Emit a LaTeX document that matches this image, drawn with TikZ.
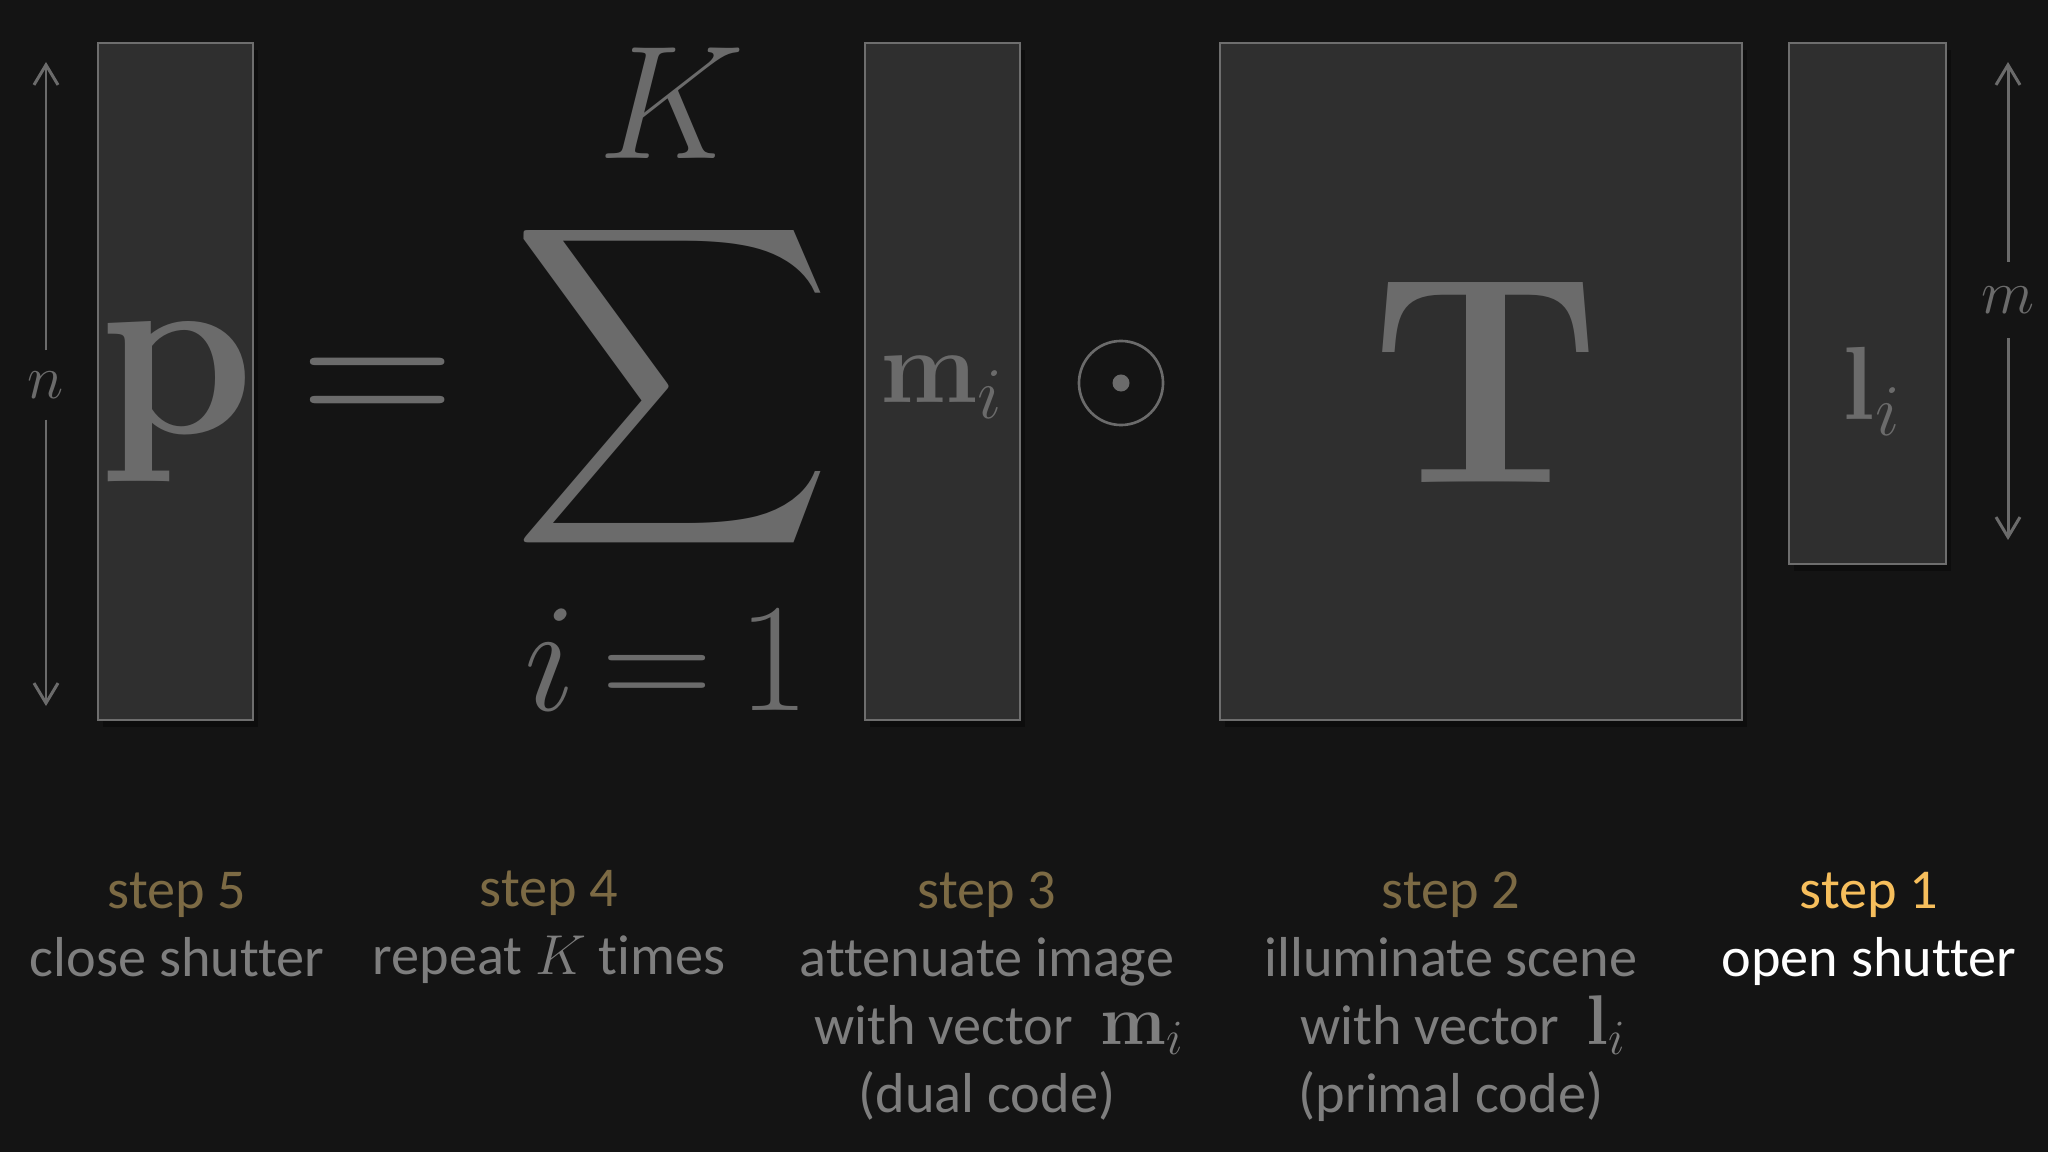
\RequirePackage{fix-cm}
\documentclass[tikz,border=0pt]{standalone}
\usepackage{amsmath}
\usepackage{exscale}
\usepackage[no-math]{fontspec}
\newfontfamily\stepfont{Carlito}[Ligatures=CommonOff]
\usepackage{tikz}
\usetikzlibrary{arrows.meta, positioning, shadows}
\definecolor{bgcol}{HTML}{141414}
\definecolor{boxfill}{HTML}{2F2F2F}
\definecolor{boxline}{HTML}{6E6E6E}
\definecolor{glyph}{HTML}{6B6B6B}
\definecolor{labgray}{HTML}{7E7E7E}
\definecolor{stepdim}{HTML}{7C6A44}
\definecolor{stepon}{HTML}{F6BE5C}

\begin{document}
\begin{tikzpicture}[
  x=0.01cm, y=-0.01cm,
  vecbox/.style={rectangle, draw=boxline, fill=boxfill, line width=0.7pt, inner sep=0,
    drop shadow={fill=black, opacity=0.35, shadow xshift=0.05cm, shadow yshift=-0.07cm}},
  sym/.style={text=glyph, inner sep=0, anchor=base},
  dimlab/.style={text=glyph, inner sep=0, font=\fontsize{17.6}{17.6}\selectfont},
  steplab/.style={align=center, anchor=north, inner sep=0, text=labgray,
    font=\stepfont\fontsize{16}{19.35}\selectfont},
  sizearrow/.style={draw=glyph, line width=0.85pt,
    -{Straight Barb[length=0.2cm, width=0.24cm, line width=0.85pt]}}
]
\fill[bgcol] (0,0) rectangle (2048,1152);
\useasboundingbox (0,0) rectangle (2048,1152);

\node[vecbox, minimum width=1.55cm, minimum height=6.77cm] (pbox) at (175.5,381.5) {};
\node[vecbox, minimum width=1.55cm, minimum height=6.77cm] (mbox) at (942.5,381.5) {};
\node[vecbox, minimum width=5.22cm, minimum height=6.77cm] (tbox) at (1481,381.5) {};
\node[vecbox, minimum width=1.57cm, minimum height=5.21cm] (lbox) at (1867.5,303.5) {};

\node[sym, font=\fontsize{70.8}{70.8}\selectfont] (pvec) at (177,434) {$\mathbf{p}$};
\node[sym, font=\fontsize{61}{61}\selectfont] (eq) at (378,435) {$=$};
\node[text=glyph, inner sep=0, font=\fontsize{24.88}{24.88}\selectfont] (sum) at (673,387) {\scalebox{2.55}{$\displaystyle\sum$}};
\node[sym, font=\fontsize{46}{46}\selectfont] (kup) at (672,159) {$K$};
\node[sym, font=\fontsize{44}{44}\selectfont] (ilow) at (667,710) {$i\,{=}\,1$};
\node[sym, font=\fontsize{29.6}{29.6}\selectfont] (mvec) at (942,403) {$\mathbf{m}_i$};
\node[circle, draw=glyph, line width=0.75pt, minimum size=0.84cm, inner sep=0] (had) at (1121,383) {};
\fill[glyph] (had.center) circle (0.085cm);
\node[sym, font=\fontsize{84}{84}\selectfont] (tmat) at (1486,483) {$\mathbf{T}$};
\node[sym, font=\fontsize{29.6}{29.6}\selectfont] (lvec) at (1872,420) {$\mathbf{l}_i$};

\node[dimlab, minimum height=0.68cm] (nlab) at (46,385) {$n$};
\node[dimlab, minimum height=0.75cm] (mlab) at (2008,300) {$m$};
\coordinate (ntop) at (46,62);
\coordinate (nbot) at (46,706);
\coordinate (mtop) at (2008,62);
\coordinate (mbot) at (2008,540);
\draw[sizearrow] (nlab) -- (ntop);
\draw[sizearrow] (nlab) -- (nbot);
\draw[sizearrow] (mlab) -- (mtop);
\draw[sizearrow] (mlab) -- (mbot);

\node[steplab] (st5) at (177,860) {\textcolor{stepdim}{step 5}\strut\\close shutter};
\node[steplab] (st4) at (549,858) {\textcolor{stepdim}{step 4}\strut\\repeat $K$ times};
\node[steplab] (st3) at (987,860) {\textcolor{stepdim}{step 3}\strut\\attenuate image\\\hspace*{0.45em}with vector\hspace{0.5em}{\fontsize{20}{19.35}\selectfont$\mathbf{m}_i$}\\(dual code)};
\node[steplab] (st2) at (1451,860) {\textcolor{stepdim}{step 2}\strut\\illuminate scene\\\hspace*{0.45em}with vector\hspace{0.5em}{\fontsize{20}{19.35}\selectfont$\mathbf{l}_i$}\\(primal code)};
\node[steplab] (st1) at (1869,860) {\textcolor{stepon}{step 1}\strut\\\textcolor{white}{open shutter}};
\end{tikzpicture}
\end{document}
